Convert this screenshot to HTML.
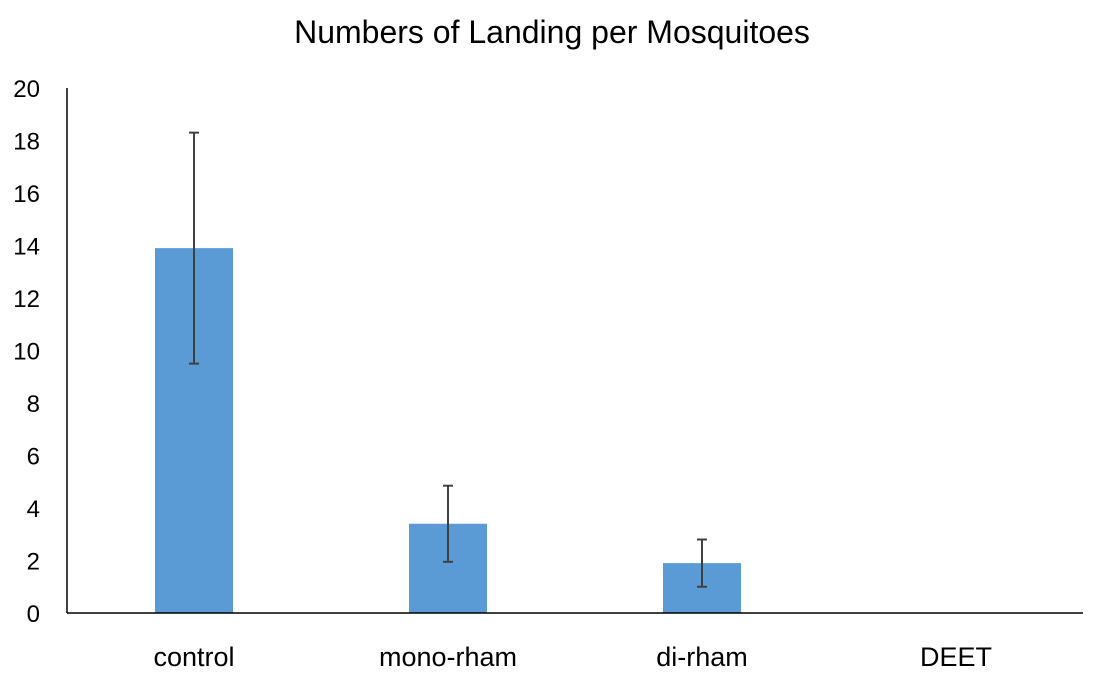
<!DOCTYPE html>
<html><head><meta charset="utf-8">
<style>
html,body{margin:0;padding:0;background:#fff;}
svg{display:block;font-family:"Liberation Sans",sans-serif;}
</style></head>
<body>
<svg id="chart" width="1101" height="685" viewBox="0 0 1101 685">
<text x="552" y="43" text-anchor="middle" font-size="32" fill="#000">Numbers of Landing per Mosquitoes</text>
</svg>
<script>
const categories = ["control","mono-rham","di-rham","DEET"];
const values = [13.9, 3.4, 1.9, 0];
const errors = [4.4, 1.45, 0.9, 0];
const yTicks = [0,2,4,6,8,10,12,14,16,18,20];

const svg = document.getElementById('chart');
const NS = 'http://www.w3.org/2000/svg';
const x0 = 67, x1 = 1083, yTop = 88, yBot = 613, yMax = 20;
const y = v => yBot - (v / yMax) * (yBot - yTop);
const band = (x1 - x0) / categories.length;
const xc = i => x0 + band * (i + 0.5);
const barW = 78;

function mk(tag, attrs){ const e = document.createElementNS(NS, tag); for (const k in attrs) e.setAttribute(k, attrs[k]); svg.appendChild(e); return e; }

yTicks.forEach(t => {
  const e = mk('text', {x: 40, y: y(t) + 9, 'text-anchor': 'end', 'font-size': 24, fill: '#000'});
  e.textContent = t;
  
  
});

categories.forEach((c, i) => {
  const v = values[i];
  if (v > 0) {
    const r = mk('rect', {x: xc(i) - barW/2, y: y(v), width: barW, height: yBot - y(v), fill: '#5b9bd5'});
    
    
  }
  if (errors[i] > 0) {
    const g = document.createElementNS(NS, 'g');
    
    
    svg.appendChild(g);
    const hi = y(v + errors[i]), lo = y(v - errors[i]), cx = xc(i);
    [[cx, hi, cx, lo], [cx-5, hi, cx+5, hi], [cx-5, lo, cx+5, lo]].forEach(p => {
      const l = document.createElementNS(NS, 'line');
      l.setAttribute('x1', p[0]); l.setAttribute('y1', p[1]); l.setAttribute('x2', p[2]); l.setAttribute('y2', p[3]);
      l.setAttribute('stroke', '#404040'); l.setAttribute('stroke-width', 2);
      g.appendChild(l);
    });
  }
  const t = mk('text', {x: xc(i), y: 666, 'text-anchor': 'middle', 'font-size': 27, fill: '#000'});
  t.textContent = c;
  
  
});

const ya = mk('line', {x1: x0, y1: yTop, x2: x0, y2: yBot, stroke: '#000', 'stroke-width': 1.5});


const xa = mk('line', {x1: x0, y1: yBot, x2: x1, y2: yBot, stroke: '#000', 'stroke-width': 1.5});


</script>
</body></html>
